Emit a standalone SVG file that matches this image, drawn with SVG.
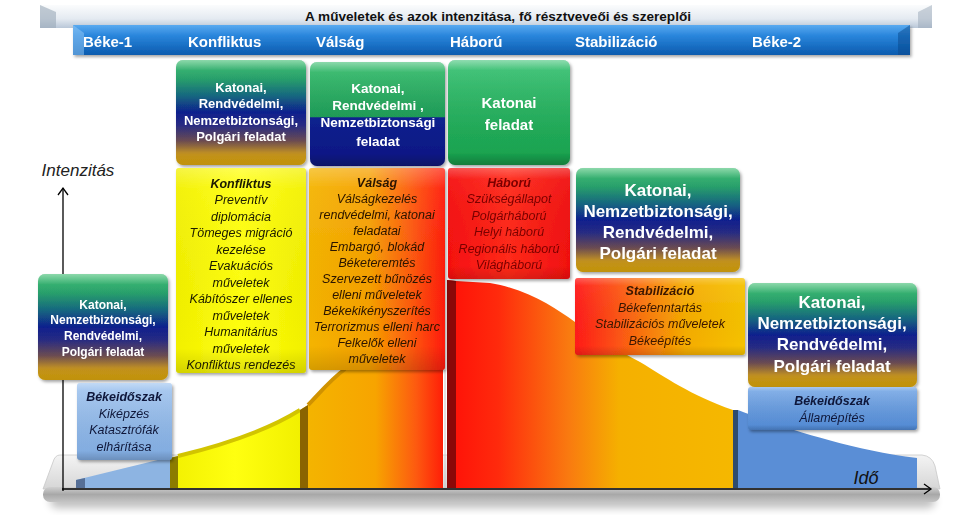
<svg xmlns="http://www.w3.org/2000/svg" width="973" height="528" viewBox="0 0 973 528">
<style>
text{font-family:"Liberation Sans",Arial,sans-serif;text-anchor:middle}
.hd{font-size:15px;font-weight:bold;fill:#fff;text-anchor:start}
.ttl{font-size:13px;font-weight:bold;fill:#111}
.pw{font-weight:bold;fill:#fff}
.it{font-size:12.5px;font-style:italic}
.b{font-weight:bold}
.ax{fill:none;stroke:#000;stroke-width:1.3}
.box{filter:url(#sh)}
.gl{fill:url(#gloss)}
</style>
<defs>
<filter id="sh" x="-10%" y="-10%" width="125%" height="130%"><feDropShadow dx="1.5" dy="2" stdDeviation="1.5" flood-color="#000" flood-opacity="0.35"/></filter>
<filter id="blur" x="-5%" y="-50%" width="110%" height="200%"><feGaussianBlur stdDeviation="4"/></filter>
<linearGradient id="gloss" x1="0" y1="0" x2="0" y2="1"><stop offset="0" stop-color="#fff" stop-opacity="0.45"/><stop offset="0.1" stop-color="#fff" stop-opacity="0.08"/><stop offset="0.88" stop-color="#000" stop-opacity="0"/><stop offset="1" stop-color="#000" stop-opacity="0.22"/></linearGradient>
<linearGradient id="gBan" x1="0" y1="0" x2="0" y2="1"><stop offset="0" stop-color="#fbfcfd"/><stop offset="0.6" stop-color="#e4eaf1"/><stop offset="1" stop-color="#b9c7d8"/></linearGradient>
<linearGradient id="gBar" x1="0" y1="0" x2="0" y2="1"><stop offset="0" stop-color="#5aaaf0"/><stop offset="0.35" stop-color="#2a86dc"/><stop offset="1" stop-color="#0a5aae"/></linearGradient>
<linearGradient id="gPers" x1="0" y1="0" x2="0" y2="1"><stop offset="0" stop-color="#2fb866"/><stop offset="0.18" stop-color="#1a9a62"/><stop offset="0.35" stop-color="#0c5f7e"/><stop offset="0.5" stop-color="#0b1c8e"/><stop offset="0.62" stop-color="#262a84"/><stop offset="0.77" stop-color="#6c4c52"/><stop offset="0.9" stop-color="#c8961e"/><stop offset="1" stop-color="#f5ba08"/></linearGradient>
<linearGradient id="gSplit" x1="0" y1="0" x2="0" y2="1"><stop offset="0" stop-color="#30ba68"/><stop offset="0.53" stop-color="#1c9c56"/><stop offset="0.535" stop-color="#0d1f90"/><stop offset="1" stop-color="#0a1682"/></linearGradient>
<linearGradient id="gGreen" x1="0" y1="0" x2="0" y2="1"><stop offset="0" stop-color="#35c070"/><stop offset="1" stop-color="#17a04c"/></linearGradient>
<linearGradient id="gYel" x1="0" y1="0" x2="1" y2="0"><stop offset="0" stop-color="#f2f000"/><stop offset="0.5" stop-color="#ffff10"/><stop offset="1" stop-color="#f2f000"/></linearGradient>
<linearGradient id="gVal" x1="0" y1="0" x2="1" y2="0"><stop offset="0" stop-color="#f4b400"/><stop offset="0.45" stop-color="#f6a000"/><stop offset="0.75" stop-color="#fd5a0e"/><stop offset="1" stop-color="#ff1a0a"/></linearGradient>
<linearGradient id="gHab" x1="0" y1="0" x2="1" y2="0"><stop offset="0" stop-color="#f51010"/><stop offset="0.5" stop-color="#ff2a1a"/><stop offset="1" stop-color="#f01010"/></linearGradient>
<linearGradient id="gStab" x1="0" y1="0" x2="1" y2="0"><stop offset="0" stop-color="#ff1a1a"/><stop offset="0.35" stop-color="#fb6a10"/><stop offset="0.65" stop-color="#f5ac00"/><stop offset="1" stop-color="#f5c200"/></linearGradient>
<linearGradient id="gB1" x1="0" y1="0" x2="0" y2="1"><stop offset="0" stop-color="#a6c8f0"/><stop offset="1" stop-color="#7ea9de"/></linearGradient>
<linearGradient id="gB2" x1="0" y1="0" x2="0" y2="1"><stop offset="0" stop-color="#80aee8"/><stop offset="1" stop-color="#5088d2"/></linearGradient>
<linearGradient id="aVal" gradientUnits="userSpaceOnUse" x1="308" y1="0" x2="443" y2="0"><stop offset="0" stop-color="#f4b400"/><stop offset="0.5" stop-color="#f7a400"/><stop offset="0.8" stop-color="#fd5a10"/><stop offset="1" stop-color="#ff1e08"/></linearGradient>
<linearGradient id="aHab" gradientUnits="userSpaceOnUse" x1="456" y1="0" x2="737" y2="0"><stop offset="0" stop-color="#ff1408"/><stop offset="0.15" stop-color="#ff2a0c"/><stop offset="0.4" stop-color="#f97a10"/><stop offset="0.58" stop-color="#f5b000"/><stop offset="1" stop-color="#f5b800"/></linearGradient>
<linearGradient id="gPlat" x1="0" y1="0" x2="0" y2="1"><stop offset="0" stop-color="#f4f4f4"/><stop offset="1" stop-color="#d6d6d6"/></linearGradient>
<linearGradient id="gFront" x1="0" y1="0" x2="0" y2="1"><stop offset="0" stop-color="#d0d0d0"/><stop offset="0.5" stop-color="#a8a8a8"/><stop offset="1" stop-color="#c4c4c4"/></linearGradient>
</defs>

<rect width="973" height="528" fill="#fff"/>

<!-- header banner -->
<g id="title-banner">
<path d="M40,5 L932,5 L932,28 L40,28 Z" fill="url(#gBan)"/>
<path d="M40,5 L56,12 L56,28 L40,28 Z" fill="#9aa8b8" opacity="0.6"/>
<path d="M932,5 L918,12 L918,28 L932,28 Z" fill="#9aa8b8" opacity="0.5"/>
<text class="ttl" x="498" y="21" textLength="386" lengthAdjust="spacingAndGlyphs">A műveletek és azok intenzitása, fő résztveveői és szereplői</text>
</g>
<g id="phase-bar" filter="url(#sh)">
<path d="M73,25 L910,25 L910,55 L73,55 Z" fill="url(#gBar)"/>
<path d="M73,25 L84,33 L84,55 L73,55 Z" fill="#8cc4f4" opacity="0.55"/>
<path d="M910,25 L898,33 L898,55 L910,55 Z" fill="#08488c" opacity="0.5"/>
<text class="hd" x="83" y="47">Béke-1</text>
<text class="hd" x="188" y="47">Konfliktus</text>
<text class="hd" x="316" y="47">Válság</text>
<text class="hd" x="450" y="47">Háború</text>
<text class="hd" x="575" y="47">Stabilizáció</text>
<text class="hd" x="752" y="47">Béke-2</text>
</g>

<!-- platform and areas -->
<g id="chart-area">
<rect x="50" y="494" width="885" height="14" rx="7" fill="#000" opacity="0.25" filter="url(#blur)"/>
<path d="M60,455 L922,455 Q932,456 935,466 L940,489 L43,489 L53,462 Q55,455 60,455 Z" fill="url(#gPlat)" stroke="#c8c8c8" stroke-width="0.8"/>
<rect x="43" y="487" width="897" height="15" rx="7" fill="url(#gFront)"/>
<path d="M76,480 L170,457 L170,488 L76,488 Z" fill="#8db4e2"/>
<path d="M76,480 L85,478 L85,488 L76,488 Z" fill="#566f96"/>
<path d="M170,458 L178,456 C215,447 265,432 300,410 L300,488 L170,488 Z" fill="url(#gYel)"/>
<path d="M178,456 C215,447 265,432 300,410" fill="none" stroke="#d2c400" stroke-width="4"/>
<path d="M170,458 L178,456 L178,488 L170,488 Z" fill="#8c7c00"/>
<path d="M300,410 L308,405 C318,395 330,380 345,369 L443,369 L443,488 L300,488 Z" fill="url(#aVal)"/>
<path d="M308,405 C318,395 330,380 345,369" fill="none" stroke="#d09200" stroke-width="4"/>
<path d="M300,410 L308,405 L308,488 L300,488 Z" fill="#8a6400"/>
<line x1="445" y1="370" x2="445" y2="488" stroke="#c8c8c8" stroke-width="1"/>
<path d="M447,280 L456,281 L490,283 C530,290 555,308 575,322 C600,338 620,352 640,362 C665,377 690,395 733,410 L733,488 L447,488 Z" fill="url(#aHab)"/>
<path d="M447,280 L456,281 L456,488 L447,488 Z" fill="#8a0808"/>
<path d="M738,410 C772,423 840,448 917,458 L917,488 L738,488 Z" fill="#5a8ed6"/>
<path d="M733,410 L738,410 L738,488 L733,488 Z" fill="#2e4c6e"/>
<text x="866" y="484" style="font-size:18px;font-style:italic;fill:#111">Idő</text>
<text x="78" y="176" style="font-size:17px;font-style:italic;fill:#222">Intenzitás</text>
</g>

<g id="connectors">
<line class="ax" x1="63" y1="188" x2="63" y2="491"/>
<path class="ax" d="M58,195 L63,188 L68,195"/>
<line class="ax" x1="62" y1="489" x2="931" y2="489"/>
<path class="ax" d="M924,484 L931,489 L924,494"/>
</g>

<!-- top personnel boxes -->
<g id="konfliktus-szereplok" class="box">
<rect x="176" y="60" width="130" height="105" rx="7" fill="url(#gPers)"/>
<rect x="176" y="60" width="130" height="105" rx="7" class="gl"/>
<text class="pw" style="font-size:13px" x="241" y="92">Katonai,</text>
<text class="pw" style="font-size:13px" x="241" y="108">Rendvédelmi,</text>
<text class="pw" style="font-size:13px" x="241" y="125">Nemzetbiztonsági,</text>
<text class="pw" style="font-size:13px" x="241" y="141">Polgári feladat</text>
</g>
<g id="valsag-szereplok" class="box">
<rect x="310" y="62" width="135" height="104" rx="7" fill="url(#gSplit)"/>
<rect x="310" y="62" width="135" height="104" rx="7" class="gl"/>
<text class="pw" style="font-size:13.5px" x="378" y="93">Katonai,</text>
<text class="pw" style="font-size:13.5px" x="378" y="110">Rendvédelmi ,</text>
<text class="pw" style="font-size:13.5px" x="378" y="127">Nemzetbiztonsági</text>
<text class="pw" style="font-size:13.5px" x="378" y="146">feladat</text>
</g>
<g id="haboru-szereplok" class="box">
<rect x="448" y="60" width="122" height="105" rx="7" fill="url(#gGreen)"/>
<rect x="448" y="60" width="122" height="105" rx="7" class="gl"/>
<text class="pw" style="font-size:15px" x="509" y="108">Katonai</text>
<text class="pw" style="font-size:15px" x="509" y="130">feladat</text>
</g>

<!-- operations boxes -->
<g id="konfliktus-muveletek" class="box">
<rect x="176" y="168" width="130" height="205" rx="3" fill="url(#gYel)"/>
<rect x="176" y="168" width="130" height="205" rx="3" class="gl" opacity="0.6"/>
<g class="it" fill="#1a1a00">
<text class="b" x="241" y="187.5">Konfliktus</text>
<text x="241" y="204">Preventív</text>
<text x="241" y="220.5">diplomácia</text>
<text x="241" y="237">Tömeges migráció</text>
<text x="241" y="253.5">kezelése</text>
<text x="241" y="270">Evakuációs</text>
<text x="241" y="286.5">műveletek</text>
<text x="241" y="303">Kábítószer ellenes</text>
<text x="241" y="319.5">műveletek</text>
<text x="241" y="336">Humanitárius</text>
<text x="241" y="352.5">műveletek</text>
<text x="241" y="369">Konfliktus rendezés</text>
</g>
</g>
<g id="valsag-muveletek" class="box">
<rect x="309" y="168" width="136" height="202" rx="3" fill="url(#gVal)"/>
<rect x="309" y="168" width="136" height="202" rx="3" class="gl" opacity="0.6"/>
<g class="it" fill="#2a1400">
<text class="b" x="377" y="187">Válság</text>
<text x="377" y="203">Válságkezelés</text>
<text x="377" y="219">rendvédelmi, katonai</text>
<text x="377" y="235">feladatai</text>
<text x="377" y="251">Embargó, blokád</text>
<text x="377" y="267">Béketeremtés</text>
<text x="377" y="283">Szervezett bűnözés</text>
<text x="377" y="299">elleni műveletek</text>
<text x="377" y="315">Békekikényszerítés</text>
<text x="377" y="331">Terrorizmus elleni harc</text>
<text x="377" y="347">Felkelők elleni</text>
<text x="377" y="363">műveletek</text>
</g>
</g>
<g id="haboru-muveletek" class="box">
<rect x="448" y="168" width="122" height="111" rx="3" fill="url(#gHab)"/>
<rect x="448" y="168" width="122" height="111" rx="3" class="gl" opacity="0.6"/>
<g class="it" fill="#7a0000" style="font-size:12.5px">
<text class="b" x="509" y="186.5">Háború</text>
<text x="509" y="203">Szükségállapot</text>
<text x="509" y="219.5">Polgárháború</text>
<text x="509" y="236">Helyi háború</text>
<text x="509" y="252.5">Regionális háború</text>
<text x="509" y="269">Világháború</text>
</g>
</g>

<g id="stabilizacio-szereplok" class="box">
<rect x="576" y="168" width="164" height="104" rx="7" fill="url(#gPers)"/>
<rect x="576" y="168" width="164" height="104" rx="7" class="gl"/>
<text class="pw" style="font-size:17px" x="658" y="196">Katonai,</text>
<text class="pw" style="font-size:17px" x="658" y="217">Nemzetbiztonsági,</text>
<text class="pw" style="font-size:17px" x="658" y="238">Rendvédelmi,</text>
<text class="pw" style="font-size:17px" x="658" y="259">Polgári feladat</text>
</g>
<g id="stabilizacio-muveletek" class="box">
<rect x="575" y="278" width="170" height="77" rx="3" fill="url(#gStab)"/>
<rect x="575" y="278" width="170" height="77" rx="3" class="gl" opacity="0.6"/>
<g class="it" fill="#3a1800">
<text class="b" x="660" y="295">Stabilizáció</text>
<text x="660" y="312">Békefenntartás</text>
<text x="660" y="328">Stabilizációs műveletek</text>
<text x="660" y="345">Békeépítés</text>
</g>
</g>

<g id="beke2-szereplok" class="box">
<rect x="748" y="283" width="169" height="104" rx="7" fill="url(#gPers)"/>
<rect x="748" y="283" width="169" height="104" rx="7" class="gl"/>
<text class="pw" style="font-size:17px" x="832" y="308">Katonai,</text>
<text class="pw" style="font-size:17px" x="832" y="329">Nemzetbiztonsági,</text>
<text class="pw" style="font-size:17px" x="832" y="350">Rendvédelmi,</text>
<text class="pw" style="font-size:17px" x="832" y="372">Polgári feladat</text>
</g>
<g id="beke2-muveletek" class="box">
<rect x="748" y="387" width="169" height="43" rx="3" fill="url(#gB2)"/>
<rect x="748" y="387" width="169" height="43" rx="3" class="gl" opacity="0.7"/>
<g class="it" fill="#10183a" style="font-size:12.5px">
<text class="b" x="832" y="405">Békeidőszak</text>
<text x="832" y="422">Államépítés</text>
</g>
</g>

<g id="beke1-szereplok" class="box">
<rect x="38" y="274" width="130" height="106" rx="7" fill="url(#gPers)"/>
<rect x="38" y="274" width="130" height="106" rx="7" class="gl"/>
<text class="pw" style="font-size:12px" x="103" y="309">Katonai,</text>
<text class="pw" style="font-size:12px" x="103" y="324">Nemzetbiztonsági,</text>
<text class="pw" style="font-size:12px" x="103" y="340">Rendvédelmi,</text>
<text class="pw" style="font-size:12px" x="103" y="356">Polgári feladat</text>
</g>
<g id="beke1-muveletek" class="box">
<rect x="77" y="383" width="95" height="77" rx="3" fill="url(#gB1)"/>
<rect x="77" y="383" width="95" height="77" rx="3" class="gl" opacity="0.7"/>
<g class="it" fill="#10183a" style="font-size:12.5px">
<text class="b" x="124" y="401">Békeidőszak</text>
<text x="124" y="418">Kiképzés</text>
<text x="124" y="434">Katasztrófák</text>
<text x="124" y="451">elhárítása</text>
</g>
</g>
</svg>
